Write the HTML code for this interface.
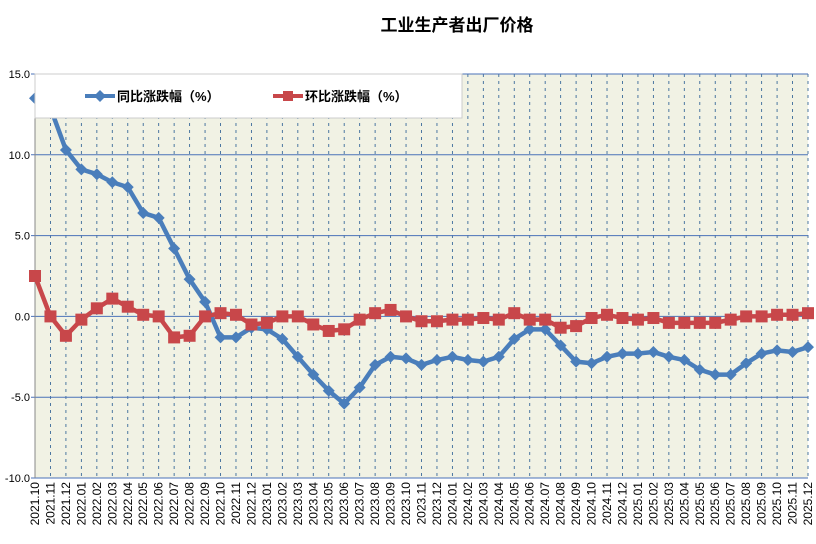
<!DOCTYPE html>
<html><head><meta charset="utf-8"><style>
html,body{margin:0;padding:0;background:#fff;width:816px;height:544px;overflow:hidden}
svg{display:block;font-family:"Liberation Sans","Noto Sans CJK SC",sans-serif}
</style></head><body>
<svg id="c" width="816" height="544" xmlns="http://www.w3.org/2000/svg"></svg>
<script>
const yoy=[13.5,12.9,10.3,9.1,8.8,8.3,8.0,6.4,6.1,4.2,2.3,0.9,-1.3,-1.3,-0.7,-0.8,-1.4,-2.5,-3.6,-4.6,-5.4,-4.4,-3.0,-2.5,-2.6,-3.0,-2.7,-2.5,-2.7,-2.8,-2.5,-1.4,-0.8,-0.8,-1.8,-2.8,-2.9,-2.5,-2.3,-2.3,-2.2,-2.5,-2.7,-3.3,-3.6,-3.6,-2.9,-2.3,-2.1,-2.2,-1.9];
const mom=[2.5,0.0,-1.2,-0.2,0.5,1.1,0.6,0.1,0.0,-1.3,-1.2,0.0,0.2,0.1,-0.5,-0.4,0.0,0.0,-0.5,-0.9,-0.8,-0.2,0.2,0.4,0.0,-0.3,-0.3,-0.2,-0.2,-0.1,-0.2,0.2,-0.2,-0.2,-0.7,-0.6,-0.1,0.1,-0.1,-0.2,-0.1,-0.4,-0.4,-0.4,-0.4,-0.2,0.0,0.0,0.1,0.1,0.2];
const L=35,R=808,T=74,B=478,n=51,dx=(R-L)/(n-1);
const X=i=>L+i*dx, Y=v=>T+(15-v)*(B-T)/25;
let s='';
s+=`<text x="457" y="31" text-anchor="middle" font-size="17" font-weight="bold" fill="#000">工业生产者出厂价格</text>`;
s+=`<rect x="${L}" y="${T}" width="${R-L}" height="${B-T}" fill="#f1f2e4"/>`;
for(let i=1;i<n;i++)s+=`<line x1="${X(i)}" y1="${T}" x2="${X(i)}" y2="${B}" stroke="#3a6a9a" stroke-width="0.9" stroke-dasharray="3,4"/>`;
for(let v=-10;v<=15;v+=5){const y=Y(v);s+=`<line x1="${L-4}" y1="${y}" x2="${R}" y2="${y}" stroke="#4a72b8" stroke-width="1"/>`;
s+=`<text x="${L-5}" y="${y+4}" text-anchor="end" font-size="11" fill="#000">${v.toFixed(1)}</text>`;}
s+=`<line x1="${L}" y1="${T}" x2="${L}" y2="${B}" stroke="#888"/>`;
for(let i=0;i<n;i++){const yr=2021+Math.floor((i+9)/12),m=(i+9)%12+1;
s+=`<text transform="translate(${X(i)+4},${B+4}) rotate(-90)" text-anchor="end" font-size="12" fill="#000">${yr}.${String(m).padStart(2,'0')}</text>`;}
s+=`<polyline fill="none" stroke="#4a7ebb" stroke-width="4.5" stroke-linejoin="round" points="${yoy.map((v,i)=>X(i)+','+Y(v)).join(' ')}"/>`;
s+=`<polyline fill="none" stroke="#c8474a" stroke-width="4.5" stroke-linejoin="round" points="${mom.map((v,i)=>X(i)+','+Y(v)).join(' ')}"/>`;
yoy.forEach((v,i)=>{const x=X(i),y=Y(v);s+=`<polygon points="${x},${y-6} ${x+6},${y} ${x},${y+6} ${x-6},${y}" fill="#4a7ebb"/>`});
mom.forEach((v,i)=>{const x=X(i),y=Y(v);s+=`<rect x="${x-6}" y="${y-6}" width="12" height="12" fill="#c8474a"/>`});
s+=`<rect x="${L}" y="${T}" width="427" height="44" fill="#fff" stroke="#ccc"/>`;
s+=`<line x1="85" y1="96" x2="115" y2="96" stroke="#4a7ebb" stroke-width="4"/><polygon points="100,90 106,96 100,102 94,96" fill="#4a7ebb"/>`;
s+=`<text x="117" y="101" font-size="13" font-weight="bold" fill="#000">同比涨跌幅（%）</text>`;
s+=`<line x1="273" y1="96" x2="303" y2="96" stroke="#c8474a" stroke-width="4"/><rect x="283" y="91" width="10" height="10" fill="#c8474a"/>`;
s+=`<text x="305" y="101" font-size="13" font-weight="bold" fill="#000">环比涨跌幅（%）</text>`;
document.getElementById('c').innerHTML=s;
</script>
</body></html>
